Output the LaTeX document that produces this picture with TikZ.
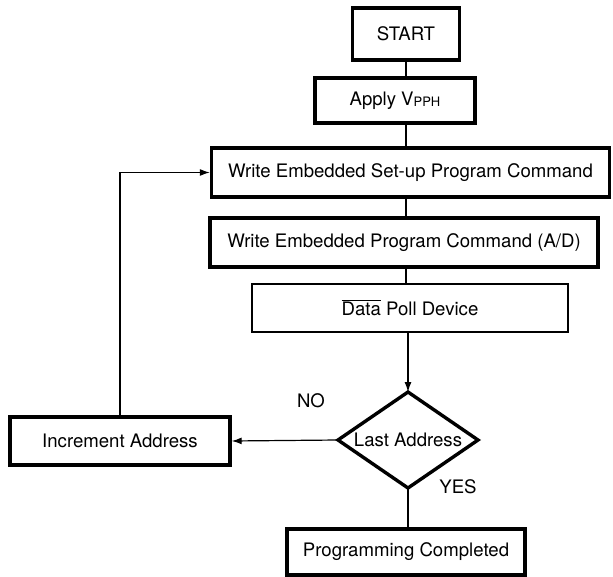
\documentclass[tikz,border=0pt]{standalone}
\usepackage{fontspec}
\setmainfont{TeX Gyre Heros}
\usetikzlibrary{arrows.meta}
\begin{document}
\begin{tikzpicture}[x=1pt,y=1pt,
  box/.style={draw, line width=3.4pt, inner sep=0pt, font=\fontsize{18.6}{20}\selectfont},
  thinbox/.style={draw, line width=2.4pt, inner sep=0pt, font=\fontsize{18.6}{20}\selectfont},
  lbl/.style={inner sep=0pt, font=\fontsize{18.6}{20}\selectfont},
  conn/.style={line width=1.2pt},
  arr/.style={line width=1.2pt, -{Latex[length=10pt,width=7pt]}}]
\useasboundingbox (0,0) rectangle (613,-577);
\coordinate (axis) at (406,0);
\node[box, minimum width=107pt, minimum height=52pt] (start) at (406,-34) {START};
\node[box, minimum width=160pt, minimum height=45pt] (apply) at (395,-100.5) {Apply V\raisebox{-1pt}{\fontsize{13}{13}\selectfont PPH}};
\node[box, minimum width=398pt, minimum height=49pt] (setup) at (410.5,-172.5) {Write Embedded Set-up Program Command};
\node[box, minimum width=388pt, minimum height=49pt] (prog) at (404,-242.5) {Write Embedded Program Command (A/D)};
\node[thinbox, minimum width=316pt, minimum height=48pt] (poll) at (410,-308) {$\overline{\mbox{Data}}$ Poll Device};
\node[lbl] (last) at (408,-440) {Last Address};
\coordinate (dtop) at (408,-392);
\coordinate (dright) at (478,-440);
\coordinate (dbot) at (408,-488);
\coordinate (dleft) at (338,-440);
\draw[line width=3.4pt, line join=miter] (dtop) -- (dright) -- (dbot) -- (dleft) -- cycle;
\node[box, minimum width=220pt, minimum height=48pt] (incr) at (120,-441) {Increment Address};
\node[box, minimum width=238pt, minimum height=46pt] (done) at (406,-552) {Programming Completed};
\node[lbl] (no) at (311,-401) {NO};
\node[lbl] (yes) at (458,-487) {YES};
\draw[conn] (start.south -| axis) -- (apply.north -| axis);
\draw[conn] (apply.south -| axis) -- (setup.north -| axis);
\draw[conn] (setup.south -| axis) -- (prog.north -| axis);
\draw[conn] (prog.south -| axis) -- (poll.north -| axis);
\draw[arr] (poll.south -| dtop) -- (dtop);
\draw[arr] (dleft) -- (incr.east);
\draw[conn] (dbot) -- (done.north -| dbot);
\draw[arr] (incr.north) |- (setup.west);
\end{tikzpicture}
\end{document}
